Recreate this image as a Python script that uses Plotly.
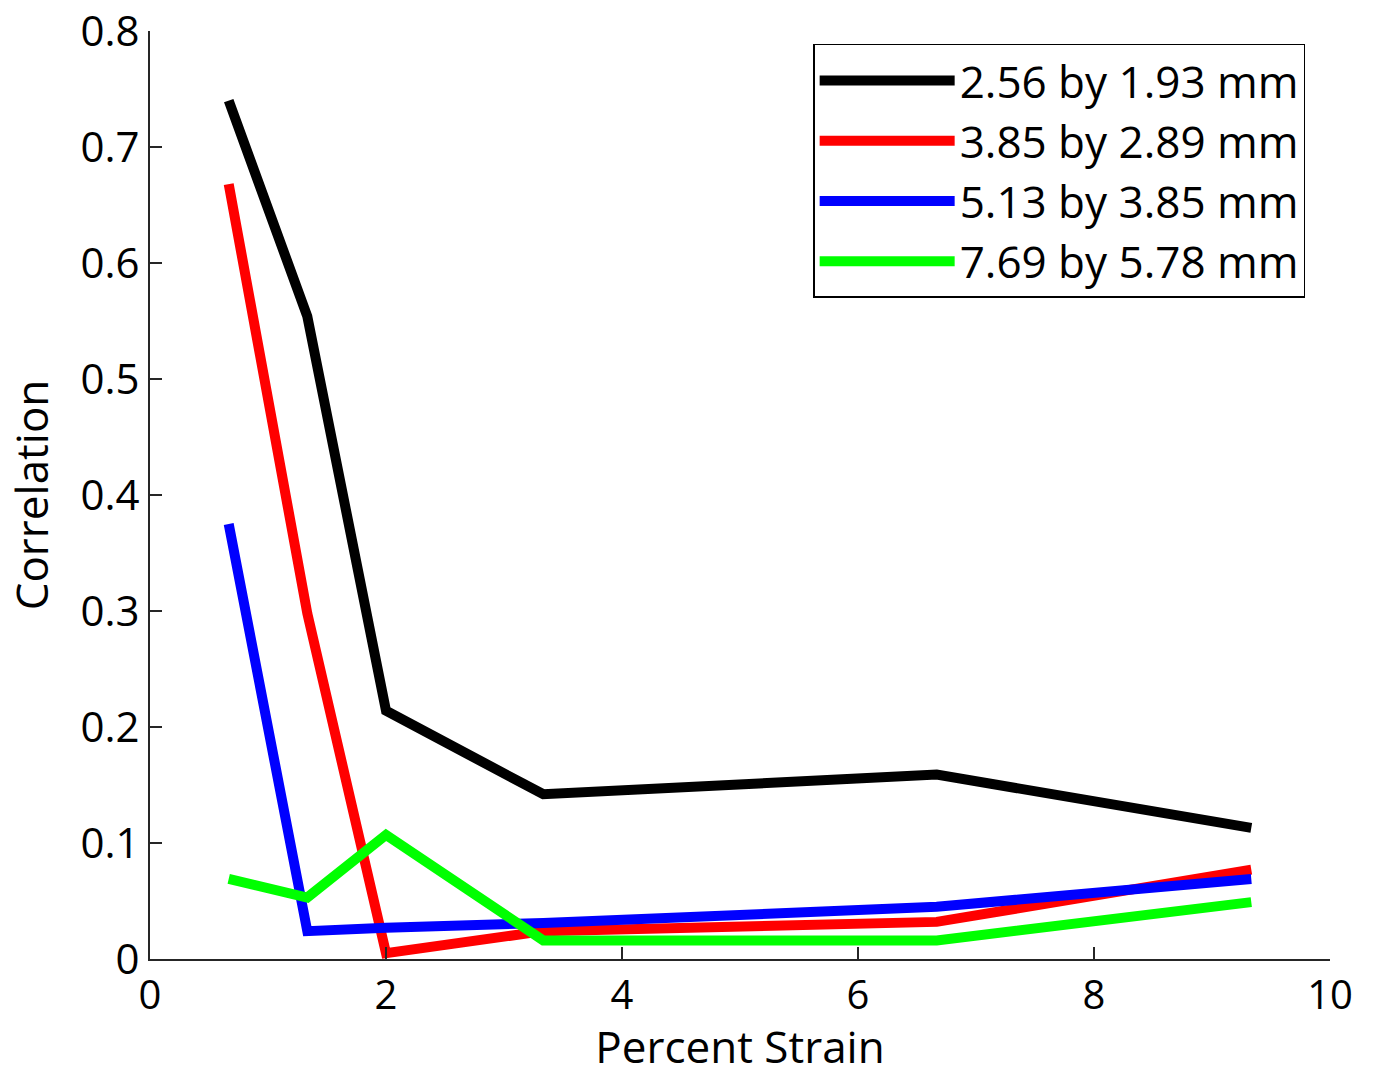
import plotly.graph_objects as go

strain = [0.667, 1.333, 2.0, 3.333, 6.667, 9.333]
series_names = ["2.56 by 1.93 mm", "3.85 by 2.89 mm", "5.13 by 3.85 mm", "7.69 by 5.78 mm"]
corr_256 = [0.740, 0.554, 0.214, 0.142, 0.159, 0.113]
corr_385 = [0.668, 0.298, 0.005, 0.024, 0.032, 0.077]
corr_513 = [0.375, 0.024, 0.027, 0.031, 0.045, 0.069]
corr_769 = [0.069, 0.053, 0.107, 0.016, 0.016, 0.049]
colors = ["#000000", "#ff0000", "#0000ff", "#00ff00"]
x_ticks = [0, 2, 4, 6, 8, 10]
y_ticks = [0, 0.1, 0.2, 0.3, 0.4, 0.5, 0.6, 0.7, 0.8]
y_tick_text = ["0", "0.1", "0.2", "0.3", "0.4", "0.5", "0.6", "0.7", "0.8"]

FONT = "Open Sans"
fig = go.Figure()
for name, vals, c in zip(series_names, [corr_256, corr_385, corr_513, corr_769], colors):
    fig.add_trace(go.Scatter(x=strain, y=vals, mode="lines", name=name,
                             line=dict(color=c, width=10)))

fig.update_layout(
    width=1376, height=1076,
    margin=dict(l=150, r=46, t=31, b=117),
    paper_bgcolor="white", plot_bgcolor="white",
    font=dict(family=FONT, size=42, color="black"),
    showlegend=True,
    legend=dict(x=0.562, y=0.986, xanchor="left", yanchor="top",
                bordercolor="black", borderwidth=1.5, bgcolor="white",
                font=dict(family=FONT, size=44), itemwidth=135,
                tracegroupgap=0),
)
fig.update_xaxes(range=[0, 10], tickvals=x_ticks, ticks="inside", ticklen=12,
                 tickwidth=2, tickcolor="#262626", showline=True, linecolor="#262626", linewidth=2,
                 showgrid=False, zeroline=False, tickfont=dict(size=40),
                 ticklabeloverflow="allow", automargin=False,
                 title=dict(text="Percent Strain", font=dict(family=FONT, size=44), standoff=8))
fig.update_yaxes(range=[0, 0.8], tickvals=y_ticks, ticktext=y_tick_text,
                 ticks="inside", ticklen=12, tickwidth=2, tickcolor="#262626",
                 showline=True, linecolor="#262626", linewidth=2,
                 showgrid=False, zeroline=False, tickfont=dict(size=42),
                 ticklabeloverflow="allow", automargin=False,
                 title=dict(text="Correlation", font=dict(family=FONT, size=44), standoff=18))

fig.write_html("out.html")
